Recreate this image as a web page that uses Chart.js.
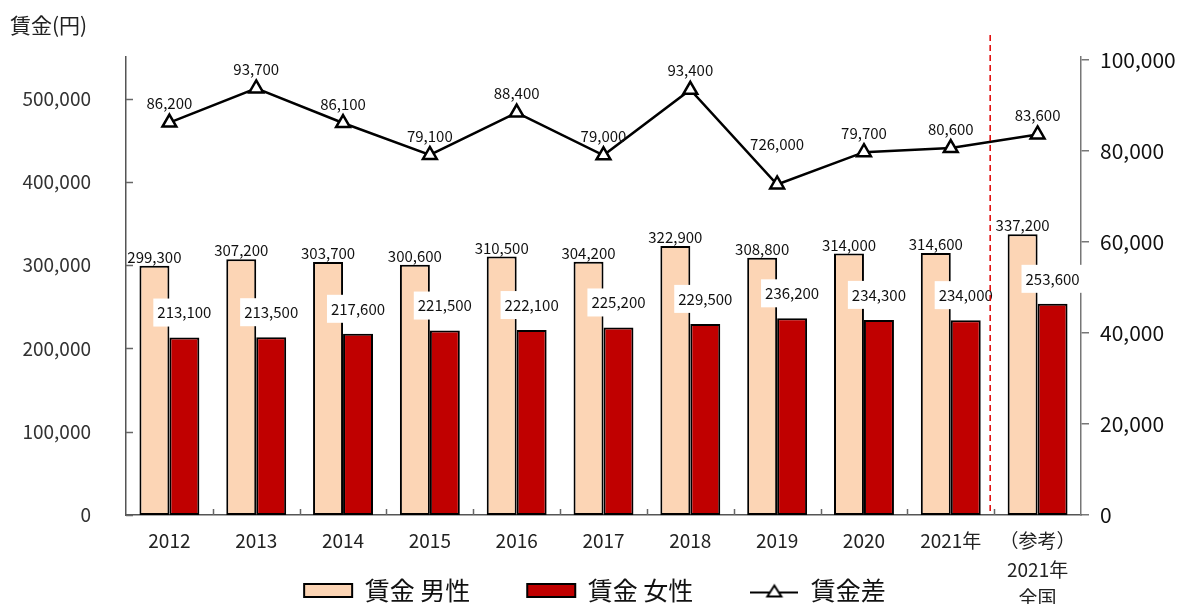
<!DOCTYPE html>
<html>
<head>
<meta charset="utf-8">
<script src="https://cdn.jsdelivr.net/npm/chart.js@4"></script>
<style>
  html, body { margin: 0; padding: 0; background: #fff; }
  #wrap { width: 1190px; height: 604px; }
</style>
</head>
<body>
<div id="wrap"><canvas id="chart" width="1190" height="604"></canvas></div>
<script>
// data
var years = ['2012', '2013', '2014', '2015', '2016', '2017', '2018', '2019', '2020', '2021年', ['（参考）', '2021年', '全国']];
var male = [299300, 307200, 303700, 300600, 310500, 304200, 322900, 308800, 314000, 314600, 337200];
var female = [213100, 213500, 217600, 221500, 222100, 225200, 229500, 236200, 234300, 234000, 253600];
var gap = [86200, 93700, 86100, 79100, 88400, 79000, 93400, 72600, 79700, 80600, 83600];
// labels as printed in the source (2019 is printed "726,000")
var gapLabels = ['86,200', '93,700', '86,100', '79,100', '88,400', '79,000', '93,400', '726,000', '79,700', '80,600', '83,600'];
var leftTicks = [0, 100000, 200000, 300000, 400000, 500000];
var rightTicks = [0, 20000, 40000, 60000, 80000, 100000];

var FONT = '"Noto Sans CJK JP", "Noto Sans", sans-serif';

function fmt(v) {
    return v.toLocaleString('en-US');
}

// icon for the line item in the legend
function lineIcon() {
    var c = document.createElement('canvas');
    c.width = 48; c.height = 20;
    var g = c.getContext('2d');
    g.strokeStyle = '#000';
    g.lineWidth = 2;
    g.beginPath(); g.moveTo(0, 12); g.lineTo(48, 12); g.stroke();
    g.fillStyle = '#fff';
    g.beginPath(); g.moveTo(24, 5); g.lineTo(31, 16); g.lineTo(17, 16); g.closePath();
    g.fill(); g.stroke();
    return c;
}

var extras = {
    id: 'extras',
    afterDatasetsDraw: function(chart) {
        var ctx = chart.ctx;
        var area = chart.chartArea;
        var x = chart.scales.x, y = chart.scales.y;
        ctx.save();

        // inward tick marks on left axis
        ctx.strokeStyle = '#666';
        ctx.lineWidth = 1.5;
        leftTicks.forEach(function(v) {
            var py = Math.round(y.getPixelForValue(v)) + 0.5;
            ctx.beginPath(); ctx.moveTo(area.left, py); ctx.lineTo(area.left + 7, py); ctx.stroke();
        });
        // inward tick marks between categories
        var n = years.length;
        var step = (area.right - area.left) / n;
        for (var i = 1; i < n; i++) {
            var px = Math.round(area.left + step * i) + 0.5;
            ctx.beginPath(); ctx.moveTo(px, area.bottom); ctx.lineTo(px, area.bottom - 6); ctx.stroke();
        }

        ctx.font = '15px ' + FONT;
        ctx.textAlign = 'center';
        ctx.fillStyle = '#111';

        // male labels
        var mMeta = chart.getDatasetMeta(0);
        mMeta.data.forEach(function(el, i) {
            ctx.textBaseline = 'bottom';
            ctx.fillText(fmt(male[i]), el.x, el.y - 1);
        });

        // female labels with white box
        var fMeta = chart.getDatasetMeta(1);
        fMeta.data.forEach(function(el, i) {
            var t = fmt(female[i]);
            var w = ctx.measureText(t).width;
            var cy = el.y - 25;
            ctx.fillStyle = '#fff';
            ctx.fillRect(el.x - w / 2 - 4, cy - 14, w + 8, 28);
            ctx.fillStyle = '#111';
            ctx.textBaseline = 'middle';
            ctx.fillText(t, el.x, cy);
        });

        // gap labels (the 2019 one sits higher in the source)
        var gMeta = chart.getDatasetMeta(2);
        gMeta.data.forEach(function(el, i) {
            var lift = i === 7 ? 40 : 19;
            ctx.textBaseline = 'middle';
            ctx.fillText(gapLabels[i], el.x, el.y - lift);
        });

        // red dashed separator before the reference column
        var sx = (x.getPixelForValue(n - 2) + x.getPixelForValue(n - 1)) / 2 - 4;
        ctx.strokeStyle = '#e00000';
        ctx.lineWidth = 1.5;
        ctx.setLineDash([6, 4]);
        ctx.beginPath(); ctx.moveTo(sx, area.top - 22); ctx.lineTo(sx, area.bottom); ctx.stroke();
        ctx.setLineDash([]);

        // axis title
        ctx.font = '21px ' + FONT;
        ctx.textAlign = 'left';
        ctx.textBaseline = 'middle';
        ctx.fillStyle = '#222';
        ctx.fillText('賃金(円)', 10, 25);
        ctx.restore();
    }
};

var ctx = document.getElementById('chart');
var config = {
    type: 'bar',
    data: {
        labels: years,
        datasets: [{
            label: '賃金 男性',
            data: male,
            backgroundColor: '#fcd5b5',
            borderColor: '#000',
            borderWidth: 2,
            borderSkipped: false,
            yAxisID: 'y',
            order: 1
        }, {
            label: '賃金 女性',
            data: female,
            backgroundColor: '#c00000',
            borderColor: '#000',
            borderWidth: 2,
            borderSkipped: false,
            yAxisID: 'y',
            order: 1
        }, {
            type: 'line',
            label: '賃金差',
            data: gap,
            borderColor: '#000',
            borderWidth: 2.5,
            backgroundColor: '#fff',
            pointStyle: 'triangle',
            pointRadius: 8,
            pointBorderWidth: 2.5,
            pointBackgroundColor: '#fff',
            pointBorderColor: '#000',
            tension: 0,
            yAxisID: 'y1',
            order: 0
        }]
    },
    options: {
        responsive: false,
        animation: false,
        datasets: { bar: { barPercentage: 1, categoryPercentage: 0.69 } },
        layout: { padding: { top: 57, left: 0, right: 0, bottom: -9 } },
        plugins: {
            tooltip: { enabled: false },
            legend: {
                position: 'bottom',
                sort: function(a, b) { return a.datasetIndex - b.datasetIndex; },
                labels: {
                    usePointStyle: true,
                    pointStyleWidth: 48,
                    boxHeight: 13,
                    padding: 57,
                    color: '#111',
                    font: { size: 25, family: FONT },
                    generateLabels: function(chart) {
                        return chart.data.datasets.map(function(ds, i) {
                            return {
                                text: ds.label,
                                datasetIndex: i,
                                fillStyle: ds.type === 'line' ? '#fff' : ds.backgroundColor,
                                strokeStyle: '#000',
                                lineWidth: 2,
                                pointStyle: ds.type === 'line' ? lineIcon() : 'rect',
                                fontColor: '#111',
                                hidden: false
                            };
                        });
                    }
                }
            }
        },
        scales: {
            x: {
                offset: true,
                grid: { display: false },
                border: { color: '#555', width: 1.5 },
                ticks: {
                    color: '#222',
                    font: { size: 19, family: FONT, lineHeight: 1.5 },
                    padding: 4,
                    maxRotation: 0,
                    autoSkip: false
                },
                afterFit: function(s) {
                    s.height = 6;
                    // let the tick labels spill below the (thin) axis box
                    s._computeLabelArea = function() { return undefined; };
                }
            },
            y: {
                position: 'left',
                min: 0,
                max: 550000,
                afterBuildTicks: function(s) {
                    s.ticks = leftTicks.map(function(v) { return { value: v }; });
                },
                ticks: {
                    color: '#333',
                    font: { size: 19, family: FONT },
                    padding: 27,
                    callback: function(v) { return fmt(v); }
                },
                grid: { display: false },
                border: { display: true, color: '#555', width: 1.5 },
                afterFit: function(s) { s.width = 126; }
            },
            y1: {
                position: 'right',
                min: 0,
                max: 100600,
                afterBuildTicks: function(s) {
                    s.ticks = rightTicks.map(function(v) { return { value: v }; });
                },
                ticks: {
                    color: '#111',
                    font: { size: 21, family: FONT },
                    padding: 11,
                    callback: function(v) { return fmt(v); }
                },
                grid: { drawOnChartArea: false, tickLength: 8, color: '#777', lineWidth: 1.5 },
                border: { display: true, color: '#777', width: 1.5 },
                afterFit: function(s) { s.width = 109; }
            }
        }
    },
    plugins: [extras]
};
window.myChart = new Chart(ctx, config);
</script>
</body>
</html>
